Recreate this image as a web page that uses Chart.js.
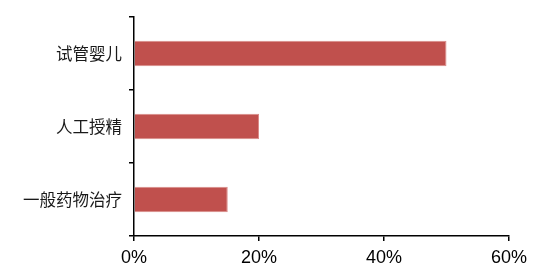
<!DOCTYPE html>
<html lang="zh">
<head>
<meta charset="UTF-8" />
<title>治疗方式</title>
<script src="https://cdn.jsdelivr.net/npm/chart.js"></script>
<style>
  html, body { margin: 0; padding: 0; background: #fff; }
  #wrap { width: 543px; height: 279px; position: relative; }
</style>
</head>
<body>
<div id="wrap"><canvas id="c"></canvas></div>
<script>
const categories = ["试管婴儿", "人工授精", "一般药物治疗"]
const shares = [50, 20, 15]
const xTicks = [0, 20, 40, 60]

const ctx = document.getElementById("c").getContext("2d")
new Chart(ctx, {
  type: "bar",
  data: {
    labels: categories,
    datasets: [{
      data: shares,
      backgroundColor: "#C0504D",
      borderColor: "#D98A88",
      borderWidth: 1,
      categoryPercentage: 0.35,
      barPercentage: 1
    }]
  },
  options: {
    indexAxis: "y",
    responsive: true,
    maintainAspectRatio: false,
    animation: false,
    layout: { padding: { left: 0, right: 34, top: 13, bottom: 0 } },
    plugins: { legend: { display: false }, tooltip: { enabled: false } },
    scales: {
      x: {
        min: 0, max: 60,
        afterBuildTicks: (s) => { s.ticks = xTicks.map(v => ({ value: v })) },
        afterFit: (s) => { s.height = 43 },
        border: { color: "#000", width: 1.5 },
        grid: { drawOnChartArea: false, tickLength: 5, color: "#000", lineWidth: 1.5 },
        ticks: {
          padding: 6,
          color: "#000",
          font: { family: "'Liberation Sans', Arial, sans-serif", size: 18 },
          callback: (v) => v + "%"
        }
      },
      y: {
        afterFit: (s) => { s.width = 134 },
        border: { color: "#000", width: 1.5 },
        grid: { drawOnChartArea: false, offset: true, tickLength: 5, color: "#000", lineWidth: 1.5 },
        ticks: {
          padding: 7,
          color: "#1a1a1a",
          font: { family: "'Noto Sans CJK SC', sans-serif", size: 16.5 }
        }
      }
    }
  }
})
</script>
</body>
</html>
